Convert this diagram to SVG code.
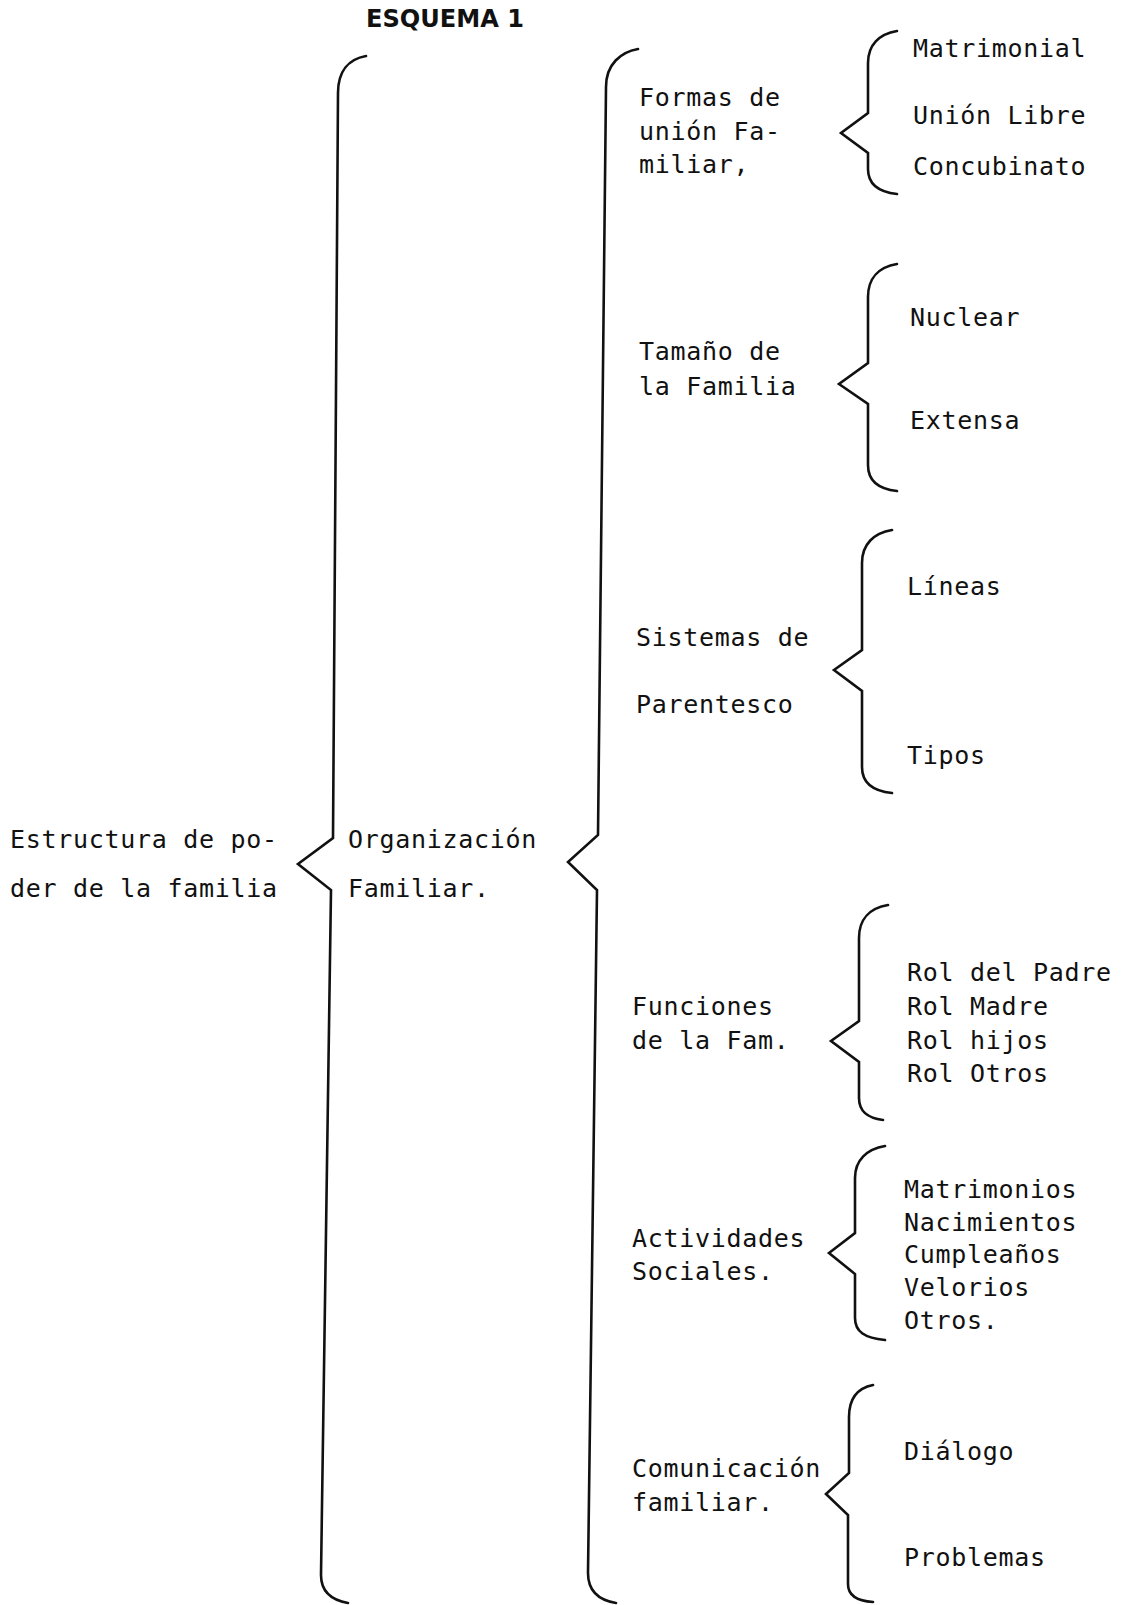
<svg xmlns="http://www.w3.org/2000/svg" width="1121" height="1605" viewBox="0 0 1121 1605">
<style>
.t{font-family:"DejaVu Sans Mono","Liberation Mono",monospace;font-size:25px;letter-spacing:0.7px;fill:#111}
.h{font-family:"DejaVu Sans","Liberation Sans",Arial,sans-serif;font-size:24px;font-weight:bold;fill:#111}
.b{fill:none;stroke:#111;stroke-width:2.6;stroke-linejoin:miter;stroke-linecap:round}
</style>
<rect width="1121" height="1605" fill="#fff"/>
<g id="title"><text class="h" x="366" y="27" textLength="158" lengthAdjust="spacingAndGlyphs">ESQUEMA  1</text></g>
<g id="connectors">
<path class="b" d="M366 56 C349 59 338 71 338 93 L333 838 L298 864 L331 890 L321 1575 C321 1591 331 1600 348 1603"/>
<path class="b" d="M638 49 C621 52 606 64 606 87 L598 835 L568 862 L597 890 L588 1573 C588 1590 598 1600 616 1603"/>
<path class="b" d="M897 31 C879 34 868 45 868 63 L868 113 L841 133 L868 153 L868 169 C868 184 878 192 897 194"/>
<path class="b" d="M897 264 C879 267 868 278 868 297 L868 363 L839 384 L868 404 L868 465 C868 481 878 489 897 491"/>
<path class="b" d="M892 530 C874 533 862 544 862 563 L862 650 L834 670 L862 691 L862 767 C862 783 872 791 892 793"/>
<path class="b" d="M888 905 C870 908 859 919 859 938 L859 1021 L831 1041 L859 1062 L859 1098 C859 1112 868 1118 883 1120"/>
<path class="b" d="M885 1146 C867 1149 855 1160 855 1178 L855 1233 L829 1253 L855 1274 L855 1318 C855 1332 865 1338 885 1340"/>
<path class="b" d="M873 1385 C858 1388 849 1398 849 1417 L849 1473 L826 1494 L848 1515 L848 1584 C848 1596 857 1601 873 1602"/>
</g>
<g id="n-estructura"><text class="t" x="10" y="848">Estructura de po-</text><text class="t" x="10" y="897">der de la familia</text></g>
<g id="n-organizacion"><text class="t" x="348" y="848">Organización</text><text class="t" x="348" y="897">Familiar.</text></g>
<g id="n-formas"><text class="t" x="639" y="106">Formas de</text><text class="t" x="639" y="140">unión Fa-</text><text class="t" x="639" y="173">miliar,</text></g>
<g id="n-matrimonial"><text class="t" x="913" y="57">Matrimonial</text></g>
<g id="n-union"><text class="t" x="913" y="124">Unión Libre</text></g>
<g id="n-concubinato"><text class="t" x="913" y="175">Concubinato</text></g>
<g id="n-tamano"><text class="t" x="639" y="360">Tamaño de</text><text class="t" x="639" y="395">la Familia</text></g>
<g id="n-nuclear"><text class="t" x="910" y="326">Nuclear</text></g>
<g id="n-extensa"><text class="t" x="910" y="429">Extensa</text></g>
<g id="n-sistemas"><text class="t" x="636" y="646">Sistemas de</text><text class="t" x="636" y="713">Parentesco</text></g>
<g id="n-lineas"><text class="t" x="907" y="595">Líneas</text></g>
<g id="n-tipos"><text class="t" x="907" y="764">Tipos</text></g>
<g id="n-funciones"><text class="t" x="632" y="1015">Funciones</text><text class="t" x="632" y="1049">de la Fam.</text></g>
<g id="n-roles"><text class="t" x="907" y="981">Rol del Padre</text><text class="t" x="907" y="1015">Rol Madre</text><text class="t" x="907" y="1049">Rol hijos</text><text class="t" x="907" y="1082">Rol Otros</text></g>
<g id="n-actividades"><text class="t" x="632" y="1247">Actividades</text><text class="t" x="632" y="1280">Sociales.</text></g>
<g id="n-eventos"><text class="t" x="904" y="1198">Matrimonios</text><text class="t" x="904" y="1231">Nacimientos</text><text class="t" x="904" y="1263">Cumpleaños</text><text class="t" x="904" y="1296">Velorios</text><text class="t" x="904" y="1329">Otros.</text></g>
<g id="n-comunicacion"><text class="t" x="632" y="1477">Comunicación</text><text class="t" x="632" y="1511">familiar.</text></g>
<g id="n-dialogo"><text class="t" x="904" y="1460">Diálogo</text></g>
<g id="n-problemas"><text class="t" x="904" y="1566">Problemas</text></g>
</svg>
